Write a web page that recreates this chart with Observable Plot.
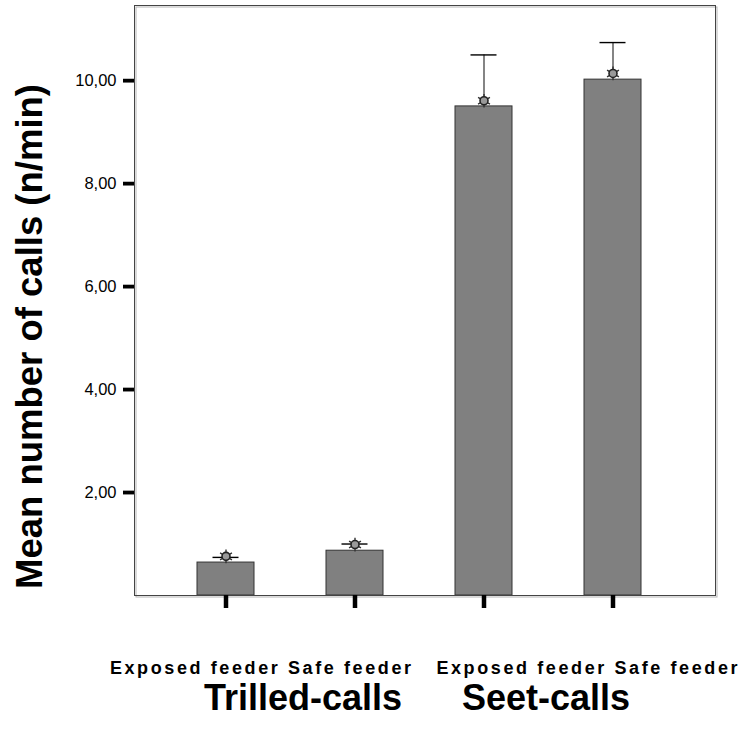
<!DOCTYPE html>
<html>
<head>
<meta charset="utf-8">
<script src="https://cdn.jsdelivr.net/npm/d3@7"></script>
<script src="https://cdn.jsdelivr.net/npm/@observablehq/plot@0.6"></script>
<style>
  html, body { margin: 0; padding: 0; background: #fff; }
  #chart { width: 743px; height: 731px; }
</style>
</head>
<body>
<div id="chart"></div>
<script>
// ---- data ----
const groups = ["Trilled-calls", "Trilled-calls", "Seet-calls", "Seet-calls"];
const conditions = ["Exposed feeder", "Safe feeder", "Exposed feeder", "Safe feeder"];
const barValues = [0.64, 0.87, 9.50, 10.02];
const meanValues = [0.76, 0.99, 9.61, 10.14];
const upperValues = [0.74, 1.00, 10.50, 10.74];
const yTicks = [2, 4, 6, 8, 10];
const yLabel = "Mean number of calls (n/min)";
const groupNames = ["Trilled-calls", "Seet-calls"];

const rows = conditions.map((c, i) => ({
  key: groups[i] + " | " + c,
  group: groups[i],
  condition: c,
  bar: barValues[i],
  mean: meanValues[i],
  upper: upperValues[i]
}));
const keys = rows.map(d => d.key);

const NB = "\u00a0";
const rowText = conditions.slice(0, 2).join(NB) + NB + NB + NB + conditions.slice(2).join(NB);
const groupText = groupNames.join(NB.repeat(6));

const font = "'Liberation Sans', Arial, Helvetica, sans-serif";

const chart = Plot.plot({
  width: 743,
  height: 731,
  marginLeft: 134,
  marginRight: 28,
  marginTop: 5,
  marginBottom: 136,
  style: { fontFamily: font, fontSize: "16px", color: "#000", background: "#fff" },
  x: { domain: keys, paddingInner: 0.56, paddingOuter: 0.53, align: 0.46, axis: null },
  y: { domain: [0, 11.46], axis: null },
  marks: [
    Plot.frame({ stroke: "#b5b5b5", dx: 1.5, dy: 1.5 }),
    Plot.barY(rows, { x: "key", y: "bar", fill: "#808080", stroke: "#333", strokeWidth: 1 }),
    Plot.ruleX(rows, { x: "key", y1: "mean", y2: "upper", stroke: "#333", strokeWidth: 1.2 }),
    Plot.tickY(rows, { x: "key", y: "upper", stroke: "#000", strokeWidth: 1.4, insetLeft: 15.5, insetRight: 15.5 }),
    Plot.dot(rows, { x: "key", y: "mean", symbol: "asterisk", r: 6.5, stroke: "#333", strokeWidth: 1.4 }),
    Plot.dot(rows, { x: "key", y: "mean", symbol: "circle", r: 4, fill: "#999", stroke: "#222", strokeWidth: 1.6 }),
    Plot.frame({ stroke: "#444", strokeWidth: 1 }),
    Plot.axisY(yTicks, {
      anchor: "left",
      tickSize: 11,
      tickPadding: 7,
      strokeWidth: 3.8,
      stroke: "#000",
      fontSize: 16.5,
      tickFormat: d => d.toFixed(2).replace(".", ","),
      label: null
    }),
    Plot.axisX(keys, {
      anchor: "bottom",
      tickSize: 13,
      strokeWidth: 4.5,
      stroke: "#000",
      tickFormat: () => "",
      label: null
    }),
    Plot.text([rowText], {
      text: d => d, frameAnchor: "bottom", dy: 78,
      fontSize: 18, fontWeight: "bold", fill: "#000"
    }),
    Plot.text([groupText], {
      text: d => d, frameAnchor: "bottom", dy: 114.5, dx: -8,
      fontSize: 36, fontWeight: "bold", fill: "#000"
    }),
    Plot.text([yLabel], {
      text: d => d, frameAnchor: "left", textAnchor: "middle", lineAnchor: "middle",
      rotate: -90, dx: -104, dy: 36,
      fontSize: 36.5, fontWeight: "bold", fill: "#000"
    })
  ]
});

d3.select(chart).selectAll("text")
  .filter(function () { return this.textContent === rowText; })
  .style("letter-spacing", "2.6px");

document.getElementById("chart").appendChild(chart);
</script>
</body>
</html>
